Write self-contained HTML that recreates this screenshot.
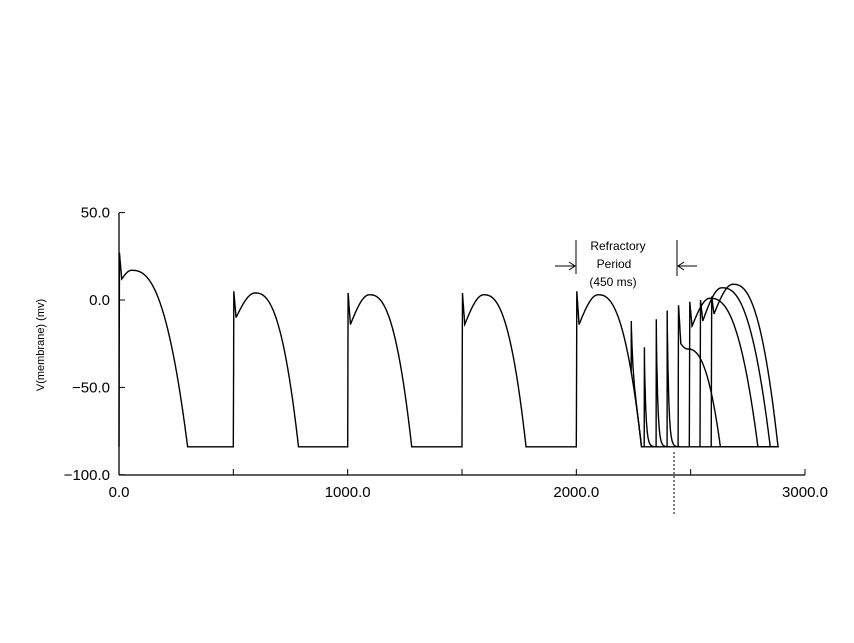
<!DOCTYPE html>
<html><head><meta charset="utf-8"><style>
html,body{margin:0;padding:0;background:#fff;}
svg{display:block;font-family:"Liberation Sans",sans-serif;}
</style></head><body>
<svg id="chart" width="854" height="643" viewBox="0 0 854 643">
<rect width="854" height="643" fill="#fff"/>
<g id="axes"></g>
<g id="traces"></g>
<g stroke="#000" stroke-width="1" fill="none">
<line x1="576" y1="240" x2="576" y2="274"/>
<line x1="677" y1="240" x2="677" y2="276"/>
<line x1="555" y1="266" x2="575" y2="266"/>
<polyline points="569,262 575,266 569,270"/>
<line x1="678" y1="266" x2="697" y2="266"/>
<polyline points="684,262 678,266 684,270"/>
<line x1="674" y1="452" x2="674" y2="514" stroke-dasharray="2,2"/>
</g>
<g font-size="12" fill="#000" text-anchor="middle">
<text x="618" y="250">Refractory</text>
<text x="614" y="268">Period</text>
<text x="613" y="286">(450 ms)</text>
</g>
<text x="44" y="345" font-size="11" text-anchor="middle" transform="rotate(-90 44 345)">V(membrane) (mv)</text>
</svg>
<script>
// data
const xTicks = [0, 1000, 2000, 3000];
const xTickLabels = ["0.0", "1000.0", "2000.0", "3000.0"];
const xMinorTicks = [500, 1500, 2500];
const yTicks = [50, 0, -50, -100];
const yTickLabels = ["50.0", "0.0", "-50.0", "-100.0"];
// regular beats
const beatStart = [0, 500, 1000, 1500, 2000];
const beatSpike = [27, 5, 4, 4, 5];
const beatNotch = [12, -10, -14, -14, -14];
const beatDome = [17, 4, 3, 3, 3];
const beatDomeTime = [55, 95, 95, 95, 95];
const beatDuration = [300, 285, 280, 280, 285];
// premature non-propagated stimuli
const extraStart = [2240, 2297, 2349, 2397];
const extraPeak = [-12, -27, -11, -6];
// premature propagated responses
const apStart = [2445, 2494, 2541, 2590];
const apSpike = [-3, -1, 0, 2];
const apNotch = [-25, -15, -12, -8];
const apDome = [-28, 1, 7, 9];
const apDomeTime = [40, 90, 95, 95];
const apDuration = [185, 300, 307, 292];
const REST = -84;

const X = t => 119 + t * (686 / 3000);
const Y = v => 300 - v * (87.4 / 50);
const NS = "http://www.w3.org/2000/svg";
const mk = (tag, attrs, parent) => { const e = document.createElementNS(NS, tag); for (const k in attrs) e.setAttribute(k, attrs[k]); parent.appendChild(e); return e; };

function ap(dt, S, N, D, dT, A) {
  if (dt < 0) return null;
  if (dt < 2) return REST + (S - REST) * dt / 2;
  if (dt < 12) return S + (N - S) * (dt - 2) / 10;
  if (dt < dT) { const u = (dt - 12) / (dT - 12); return N + (D - N) * Math.sin(u * Math.PI / 2); }
  if (dt < A) { const u = (dt - dT) / (A - dT); return D - (D - REST) * Math.pow(u, 2.5); }
  return REST;
}
function base(t) {
  let idx = -1;
  for (let i = 0; i < beatStart.length; i++) if (t >= beatStart[i]) idx = i;
  if (idx < 0) return REST;
  const v = ap(t - beatStart[idx], beatSpike[idx], beatNotch[idx], beatDome[idx], beatDomeTime[idx], beatDuration[idx]);
  return v;
}
const axes = document.getElementById('axes');
const tr = document.getElementById('traces');

let a = mk('line', {x1: 119, y1: 213, x2: 119, y2: 475, stroke: '#000', 'stroke-width': 1.3}, axes);


a = mk('line', {x1: 119, y1: 475, x2: 805, y2: 475, stroke: '#000', 'stroke-width': 1.3}, axes);


yTicks.forEach((v, i) => {
  const l = mk('line', {x1: 119, x2: 125, y1: Y(v), y2: Y(v), stroke: '#000'}, axes);
  
  
  const t = mk('text', {x: 110, y: Y(v) + 5, 'font-size': 15, 'text-anchor': 'end'}, axes);
  t.textContent = yTickLabels[i].replace('-', '\u2212');
  
  
});
xTicks.forEach((v, i) => {
  const l = mk('line', {x1: X(v), x2: X(v), y1: 469, y2: 475, stroke: '#000'}, axes);
  
  
  const t = mk('text', {x: X(v), y: 497, 'font-size': 15, 'text-anchor': 'middle'}, axes);
  t.textContent = xTickLabels[i];
  
  
});
xMinorTicks.forEach(v => {
  const l = mk('line', {x1: X(v), x2: X(v), y1: 469, y2: 475, stroke: '#000'}, axes);
  
  
});

function path(pts, name) {
  const d = pts.map((p, i) => (i ? 'L' : 'M') + X(p[0]).toFixed(1) + ',' + Y(p[1]).toFixed(1)).join('');
  const p = mk('path', {d: d, fill: 'none', stroke: '#000', 'stroke-width': 1.4}, tr);
  
  
}
// main trace
let pts = [[0, REST]];
for (let t = 0; t <= 2880; t += 1) pts.push([t, base(t)]);
path(pts, 'main-trace');
// non-propagated
extraStart.forEach((ts, i) => {
  const vb = base(ts);
  const p = [[ts, vb], [ts + 0.5, extraPeak[i]]];
  for (let t = ts + 1; t <= ts + 60; t += 1) p.push([t, base(t) + (extraPeak[i] - vb) * Math.exp(-(t - ts) / 7)]);
  path(p, 'premature-stimulus-' + i);
});
// propagated
apStart.forEach((ts, i) => {
  const vb = base(ts);
  const p = [[ts, vb]];
  for (let t = ts + 2; t <= 2885; t += 1) p.push([t, ap(t - ts, apSpike[i], apNotch[i], apDome[i], apDomeTime[i], apDuration[i])]);
  path(p, 'premature-response-' + i);
});
</script>
</body></html>
